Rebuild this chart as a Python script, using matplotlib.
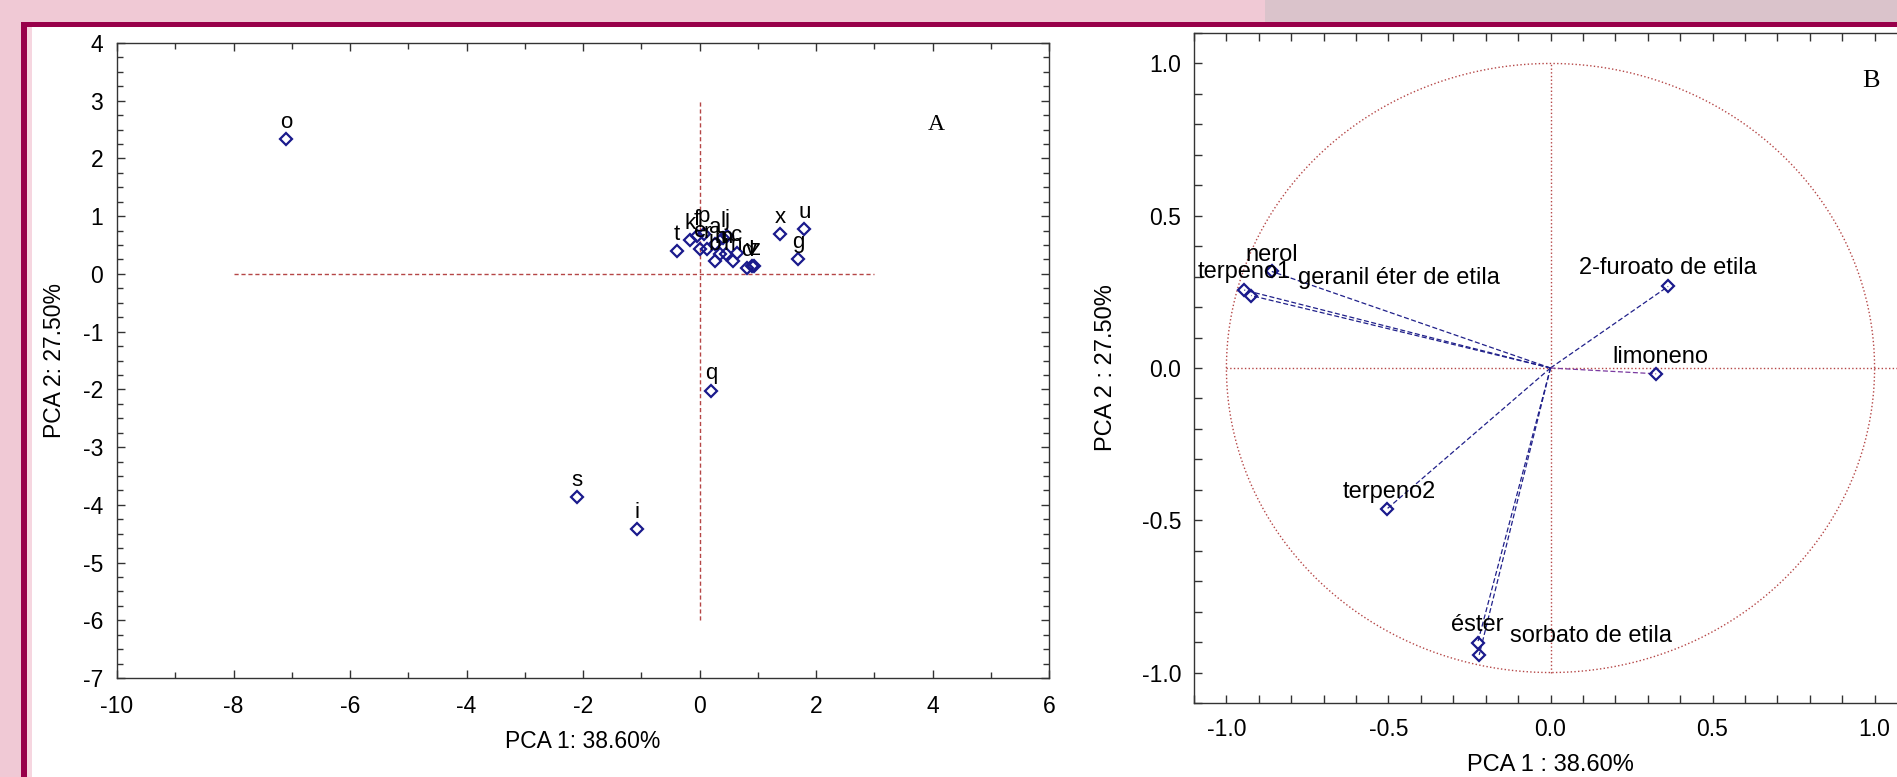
import matplotlib
matplotlib.use('Agg')
import matplotlib.pyplot as plt
from matplotlib.patches import Rectangle
from matplotlib.ticker import MultipleLocator, FormatStrFormatter
import numpy as np

plt.rcParams['font.family'] = ['Liberation Sans', 'DejaVu Sans']
plt.rcParams['axes.unicode_minus'] = False

# ---- panel A: sample scores ----
samples = ['o', 's', 'i', 'q', 't', 'k', 'f', 'p', 'e', 'r', 'a', 'b',
           'h', 'l', 'j', 'n', 'm', 'c', 'd', 'v', 'z', 'x', 'u', 'g']
score1 = [-7.10, -2.10, -1.07, 0.20, -0.39, -0.17, -0.04, 0.07, 0.01, 0.13, 0.27, 0.26,
          0.36, 0.40, 0.48, 0.46, 0.57, 0.64, 0.82, 0.90, 0.94, 1.38, 1.80, 1.69]
score2 = [2.33, -3.86, -4.42, -2.02, 0.40, 0.59, 0.65, 0.70, 0.44, 0.43, 0.51, 0.22,
          0.34, 0.62, 0.66, 0.34, 0.22, 0.37, 0.11, 0.14, 0.13, 0.69, 0.77, 0.25]

# ---- panel B: variable loadings ----
variables = ['nerol', 'terpeno1', 'geranil éter de etila', '2-furoato de etila',
             'limoneno', 'terpeno2', 'éster', 'sorbato de etila']
load1 = [-0.860, -0.945, -0.924, 0.363, 0.326, -0.506, -0.225, -0.220]
load2 = [0.317, 0.256, 0.238, 0.268, -0.019, -0.464, -0.903, -0.942]

# label placement (offset in points, alignment)
label_pos = {
    'nerol': (0, 7.5, 'center'),
    'terpeno1': (0, 9, 'center'),
    'geranil éter de etila': (34, 8, 'left'),
    '2-furoato de etila': (0, 9, 'center'),
    'limoneno': (3, 8, 'center'),
    'terpeno2': (2, 8, 'center'),
    'éster': (0, 9, 'center'),
    'sorbato de etila': (22, 9.5, 'left'),
}

W, H = 1897, 777
fig = plt.figure(figsize=(W / 100, H / 100), dpi=100)
fig.patch.set_facecolor('white')


def box(x, y, w, h, color):
    # pixel box, origin top-left
    fig.add_artist(Rectangle((x / W, 1 - (y + h) / H), w / W, h / H,
                             transform=fig.transFigure, color=color,
                             lw=0, zorder=-5))


# slide background / frame
box(0, 0, 1265, 22, '#f0c9d5')
box(1265, 0, W - 1265, 22, '#dac3cb')
box(0, 0, 21, H, '#f0c9d5')
box(27, 27, 5, H - 27, '#f6d6e0')
box(21, 22, W - 21, 5, '#98004a')
box(21, 22, 6, H - 22, '#98004a')

blue = '#1a1a8c'
refred = '#b54646'

# ================= panel A =================
axA = fig.add_axes([117 / W, (H - 678) / H, 932 / W, 635 / H])
axA.plot([-8, 3], [0, 0], ls=(0, (3, 2)), color=refred, lw=1)
axA.plot([0, 0], [-6, 3], ls=(0, (3, 2)), color=refred, lw=1)
axA.plot(score1, score2, 'D', ms=6.5, mfc='none', mec=blue, mew=1.6, ls='none')
for lab, x, y in zip(samples, score1, score2):
    axA.annotate(lab, (x, y), xytext=(0, 8), textcoords='offset points',
                 ha='center', va='baseline', fontsize=16)
axA.set_xlim(-10, 6)
axA.set_ylim(-7, 4)
axA.xaxis.set_major_locator(MultipleLocator(2))
axA.xaxis.set_minor_locator(MultipleLocator(1))
axA.yaxis.set_major_locator(MultipleLocator(1))
axA.yaxis.set_minor_locator(MultipleLocator(0.25))
axA.set_xlabel('PCA 1: 38.60%', fontsize=16.5, labelpad=9)
axA.set_ylabel('PCA 2: 27.50%', fontsize=16.5, labelpad=12)
axA.text(4.06, 2.58, 'A', family='Liberation Serif', fontsize=17,
         ha='center', va='center')
axA.tick_params(axis='x', which='major', pad=12)
axA.tick_params(axis='y', which='major', pad=10)

# ================= panel B =================
axB = fig.add_axes([1194 / W, (H - 703) / H, 713 / W, 670 / H])
t = np.linspace(0, 2 * np.pi, 400)
axB.plot(np.cos(t), np.sin(t), ls=':', color=refred, lw=1)
axB.plot([-1, 1.1], [0, 0], ls=':', color=refred, lw=1)
axB.plot([0, 0], [-1, 1], ls=':', color=refred, lw=1)
for lab, x, y in zip(variables, load1, load2):
    c = '#7a3aa0' if lab == 'limoneno' else '#20208a'
    axB.plot([0, x], [0, y], ls=(0, (4, 2)), color=c, lw=0.9)
axB.plot(load1, load2, 'D', ms=6.5, mfc='none', mec=blue, mew=1.6, ls='none')
for lab, x, y in zip(variables, load1, load2):
    dx, dy, ha = label_pos[lab]
    axB.annotate(lab, (x, y), xytext=(dx, dy), textcoords='offset points',
                 ha=ha, va='baseline', fontsize=17)
axB.set_xlim(-1.1, 1.1)
axB.set_ylim(-1.1, 1.1)
axB.xaxis.set_major_locator(MultipleLocator(0.5))
axB.xaxis.set_minor_locator(MultipleLocator(0.1))
axB.yaxis.set_major_locator(MultipleLocator(0.5))
axB.yaxis.set_minor_locator(MultipleLocator(0.1))
axB.xaxis.set_major_formatter(FormatStrFormatter('%.1f'))
axB.yaxis.set_major_formatter(FormatStrFormatter('%.1f'))
axB.set_xlabel('PCA 1 : 38.60%', fontsize=17, labelpad=9)
axB.set_ylabel('PCA 2 : 27.50%', fontsize=17, labelpad=18)
axB.text(0.99, 0.944, 'B', family='Liberation Serif', fontsize=19,
         ha='center', va='center')
axB.tick_params(axis='x', which='major', pad=11)
axB.tick_params(axis='y', which='major', pad=9)

for ax in (axA, axB):
    ax.tick_params(which='both', direction='in', top=True, right=True,
                   labelsize=16.5, color='#333333')
    ax.tick_params(which='major', length=6, width=1)
    ax.tick_params(which='minor', length=4, width=1)
    for s in ax.spines.values():
        s.set_color('#333333')
        s.set_linewidth(1)
axB.tick_params(which='minor', length=6)

fig.savefig('out.png', dpi=100)
